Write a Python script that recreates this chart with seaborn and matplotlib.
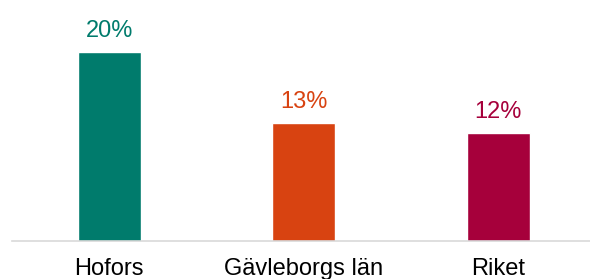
import pandas as pd
import matplotlib.pyplot as plt
import seaborn as sns

categories = ['Hofors', 'Gävleborgs län', 'Riket']
values = [20, 13, 12]
labels = ['20%', '13%', '12%']
colors = ['#007B6C', '#D84311', '#A6003B']

df = pd.DataFrame({'omrade': categories, 'andel': values})

sns.set_style('white')
plt.rcParams['font.family'] = ['Liberation Sans', 'DejaVu Sans']

fig = plt.figure(figsize=(5.9, 2.79), dpi=100)
ax = fig.add_axes([12 / 590, 38 / 279, 583.5 / 590, 241 / 279])

sns.barplot(data=df, x='omrade', y='andel', hue='omrade',
            palette=dict(zip(categories, colors)), width=0.324,
            saturation=1, legend=False, ax=ax)

for i, (v, lab, c) in enumerate(zip(values, labels, colors)):
    ax.annotate(lab, (i, v), xytext=(0, 11), textcoords='offset points',
                ha='center', va='baseline', fontsize=17, color=c)

ax.set_xlim(-0.5, 2.5)
ax.set_ylim(1.3, 25.2)
ax.set_xlabel('')
ax.set_ylabel('')
ax.set_yticks([])
ax.tick_params(axis='x', length=0, pad=12.5, labelsize=17, labelcolor='black')
for s in ['left', 'right', 'top']:
    ax.spines[s].set_visible(False)
ax.spines['bottom'].set_color('#D9D9D9')
ax.spines['bottom'].set_linewidth(1.2)

fig.savefig('out.png', dpi=100)
